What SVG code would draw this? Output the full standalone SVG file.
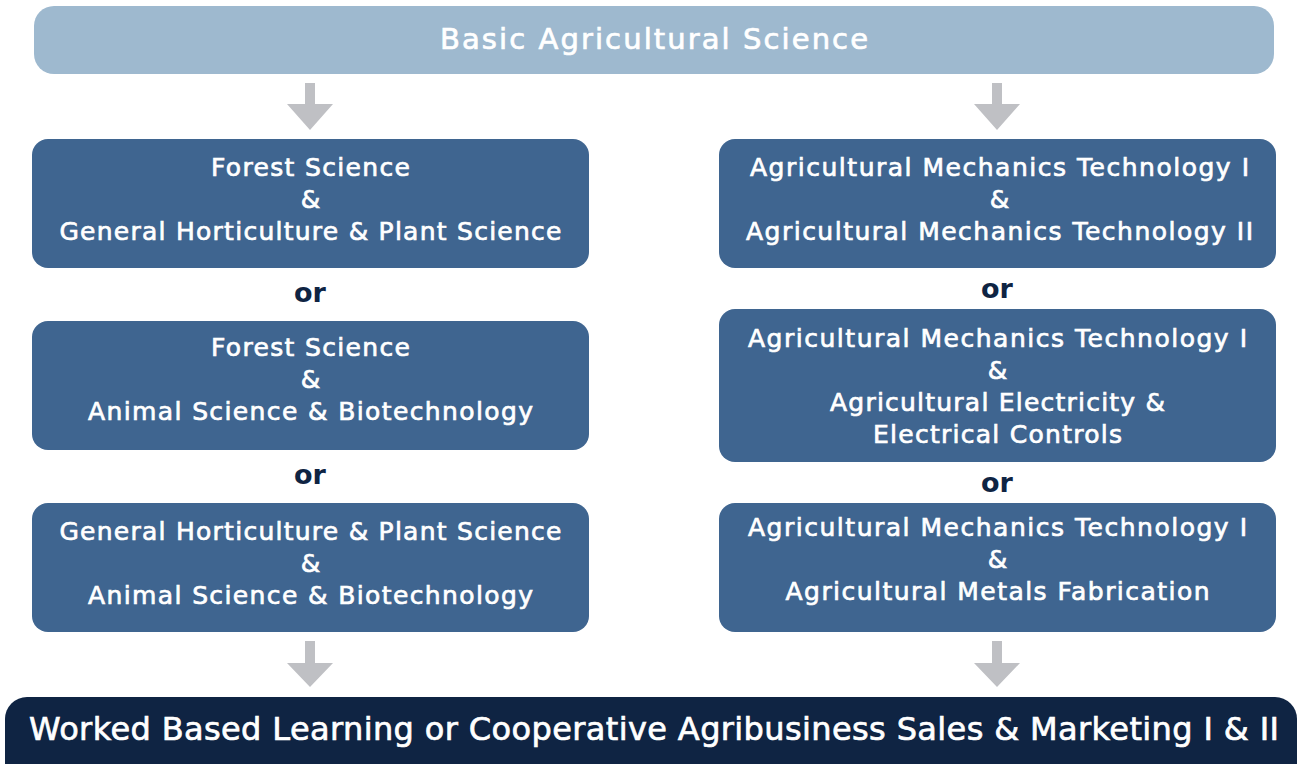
<svg xmlns="http://www.w3.org/2000/svg" width="1299" height="764" viewBox="0 0 1299 764">
<defs>
<style>
.node{fill:#3f6590}
.t{font-family:"DejaVu Sans","Open Sans",sans-serif;font-weight:normal;fill:#ffffff;stroke:#ffffff;stroke-width:0.7px;text-anchor:middle;font-size:25px}
.or{font-family:"DejaVu Sans","Open Sans",sans-serif;font-weight:bold;fill:#0f2443;text-anchor:middle;font-size:27px}
.arrow{fill:#bfc0c4}
</style>
</defs>
<rect width="1299" height="764" fill="#ffffff"/>
<g id="connectors">
<path class="arrow" d="M305 83H315V104H333L310 130L287 104H305Z"/>
<path class="arrow" d="M992 83H1002V104H1020L997 130L974 104H992Z"/>
<path class="arrow" d="M305 641H315V663H333L310 687L287 663H305Z"/>
<path class="arrow" d="M992 641H1002V663H1020L997 687L974 663H992Z"/>
</g>
<g id="top">
<rect x="34" y="6" width="1240" height="68" rx="20" fill="#9eb9cf"/>
<text class="t" x="654" y="49" style="font-size:29px" textLength="428">Basic Agricultural Science</text>
</g>
<g id="left1">
<rect class="node" x="32" y="139" width="557" height="129" rx="16"/>
<text class="t" x="310.5" y="176" textLength="199">Forest Science</text>
<text class="t" x="310.5" y="208">&amp;</text>
<text class="t" x="310.5" y="240" textLength="502">General Horticulture &amp; Plant Science</text>
</g>
<g id="left2">
<rect class="node" x="32" y="321" width="557" height="129" rx="16"/>
<text class="t" x="310.5" y="356" textLength="199">Forest Science</text>
<text class="t" x="310.5" y="388">&amp;</text>
<text class="t" x="310.5" y="420" textLength="445">Animal Science &amp; Biotechnology</text>
</g>
<g id="left3">
<rect class="node" x="32" y="503" width="557" height="129" rx="16"/>
<text class="t" x="310.5" y="540" textLength="502">General Horticulture &amp; Plant Science</text>
<text class="t" x="310.5" y="572">&amp;</text>
<text class="t" x="310.5" y="604" textLength="445">Animal Science &amp; Biotechnology</text>
</g>
<g id="right1">
<rect class="node" x="719" y="139" width="557" height="129" rx="16"/>
<text class="t" x="999.5" y="176" textLength="499">Agricultural Mechanics Technology I</text>
<text class="t" x="999.5" y="208">&amp;</text>
<text class="t" x="999.5" y="240" textLength="507">Agricultural Mechanics Technology II</text>
</g>
<g id="right2">
<rect class="node" x="719" y="309" width="557" height="153" rx="16"/>
<text class="t" x="997.5" y="347" textLength="499">Agricultural Mechanics Technology I</text>
<text class="t" x="997.5" y="379">&amp;</text>
<text class="t" x="997.5" y="411" textLength="335">Agricultural Electricity &amp;</text>
<text class="t" x="997.5" y="443" textLength="249">Electrical Controls</text>
</g>
<g id="right3">
<rect class="node" x="719" y="503" width="557" height="129" rx="16"/>
<text class="t" x="997.5" y="536" textLength="499">Agricultural Mechanics Technology I</text>
<text class="t" x="997.5" y="568">&amp;</text>
<text class="t" x="997.5" y="600" textLength="424">Agricultural Metals Fabrication</text>
</g>
<g id="or-labels">
<text class="or" x="310" y="302">or</text>
<text class="or" x="310" y="484">or</text>
<text class="or" x="997" y="298">or</text>
<text class="or" x="997" y="492">or</text>
</g>
<g id="bottom">
<rect x="5" y="697" width="1292" height="90" rx="22" fill="#0f2443"/>
<text class="t" x="654" y="740" style="font-size:32px" textLength="1250">Worked Based Learning or Cooperative Agribusiness Sales &amp; Marketing I &amp; II</text>
</g>
</svg>
